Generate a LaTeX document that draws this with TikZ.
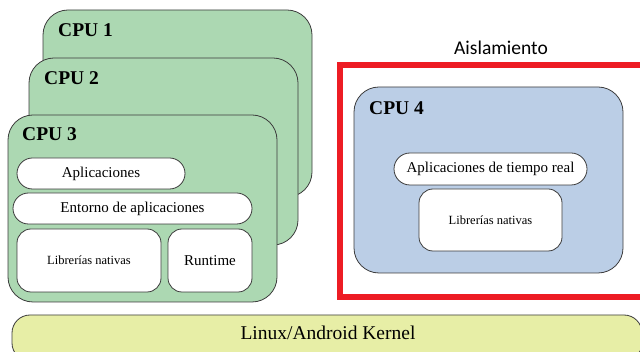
\documentclass[tikz,border=0pt]{standalone}
\usepackage{fontspec}
\setmainfont{Liberation Serif}
\newfontfamily\calib{Carlito}
\definecolor{cpugreen}{RGB}{172,216,178}
\definecolor{cpublue}{RGB}{187,206,230}
\definecolor{kernyel}{RGB}{231,238,166}
\definecolor{isored}{RGB}{237,28,36}
\definecolor{edge}{RGB}{60,60,60}
\begin{document}
\begin{tikzpicture}[x=1pt,y=-1pt,
  cpubox/.style={draw=edge,line width=0.8pt,rounded corners=25pt,minimum width=269pt,minimum height=187pt,inner sep=0pt},
  wbox/.style={draw=edge,line width=0.8pt,fill=white,inner sep=0pt},
  cpulabel/.style={font=\fontsize{19.5}{22}\selectfont\bfseries,anchor=west,inner sep=0pt}]
\useasboundingbox (0,0) rectangle (640,352);
% stacked CPUs
\node[cpubox,fill=cpugreen] (cpu1) at (177.5,103.5) {};
\node[cpulabel] (l1) at (58,30) {CPU 1};
\node[cpubox,fill=cpugreen] (cpu2) at (163.5,151.5) {};
\node[cpulabel] (l2) at (44,78) {CPU 2};
\node[cpubox,fill=cpugreen] (cpu3) at (142.5,208.5) {};
\node[cpulabel] (l3) at (22,134) {CPU 3};
\node[wbox,rounded corners=15.5pt,minimum width=168pt,minimum height=31pt,font=\fontsize{15}{17}\selectfont] (apps) at (101,173.5) {Aplicaciones};
\node[wbox,rounded corners=15.5pt,minimum width=239pt,minimum height=31pt,font=\fontsize{15}{17}\selectfont] (ent) at (132.5,208.5) {Entorno de aplicaciones};
\node[wbox,rounded corners=14pt,minimum width=144pt,minimum height=63pt,font=\fontsize{12.5}{14}\selectfont] (lib1) at (89,260.5) {Librerías nativas};
\node[wbox,rounded corners=14pt,minimum width=84pt,minimum height=63pt,font=\fontsize{15}{17}\selectfont] (rt) at (210,260.5) {Runtime};
% kernel
\node[draw=edge,line width=0.8pt,fill=kernyel,rounded corners=18pt,minimum width=630pt,minimum height=46pt,inner sep=0pt] (kern) at (327,338) {};
\node[font=\fontsize{19.5}{22}\selectfont,inner sep=0pt] (kt) at (328,333) {Linux/Android Kernel};
% isolation
\node[font=\calib\fontsize{19.5}{22}\selectfont,inner sep=0pt] (ais) at (501,48) {Aislamiento};
\node[draw=isored,line width=6pt,minimum width=303.5pt,minimum height=232pt,inner sep=0pt] (iso) at (491.25,181) {};
\node[cpubox,fill=cpublue,minimum height=186pt] (cpu4) at (488.5,180) {};
\node[cpulabel] (l4) at (369,108) {CPU 4};
\node[wbox,rounded corners=16pt,minimum width=193pt,minimum height=32pt,font=\fontsize{15}{17}\selectfont] (rta) at (490.5,169) {Aplicaciones de tiempo real};
\node[wbox,rounded corners=14pt,minimum width=143pt,minimum height=62pt,font=\fontsize{12.5}{14}\selectfont] (lib2) at (490.5,220) {Librerías nativas};
\end{tikzpicture}
\end{document}
